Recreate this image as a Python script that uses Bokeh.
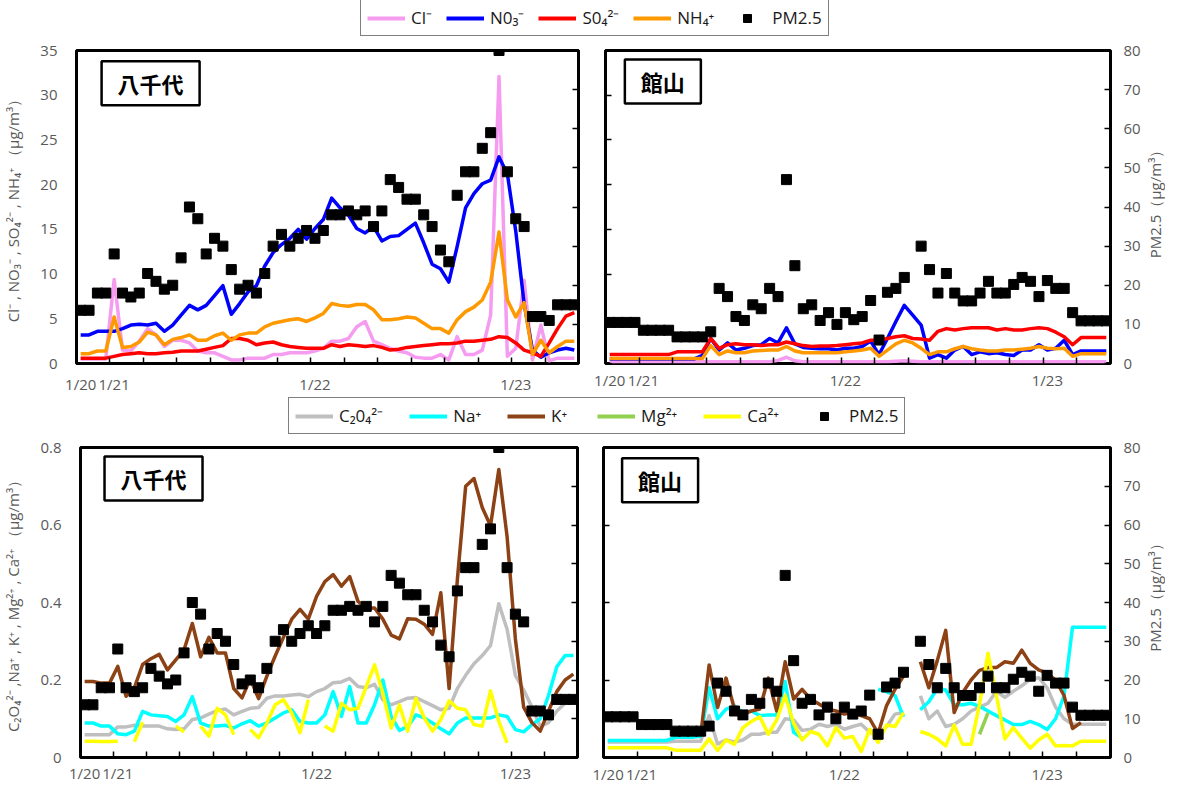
import math
import numpy as np
from bokeh.plotting import figure
from bokeh.models import (Range1d, LinearAxis, FixedTicker, Legend, LegendItem,
                          Label, ColumnDataSource, CustomJSTickFormatter)
from bokeh.layouts import column, row
from bokeh.embed import file_html
from bokeh.resources import INLINE

nan = float("nan")

# ---------------- data ----------------
hour_index = list(range(60))          # hourly samples, 1/20 20:00 -> 1/23 07:00
date_tick_index = [0, 4, 28, 52]
date_tick_labels = ["1/20", "1/21", "1/22", "1/23"]

pm25_yachiyo = [13.6, 13.6, 18, 18, 28, 18, 17, 18, 23, 21,
                19, 20, 27, 40, 37, 28, 32, 30, 24, 19,
                20, 18, 23, 30, 33, 30, 32, 34, 32, 34,
                38, 38, 39, 38, 39, 35, 39, 47, 45, 42,
                42, 38, 35, 29, 26, 43, 49, 49, 55, 59,
                80, 49, 37, 35, 12, 12, 11, 15, 15, 15]
pm25_tateyama = [10.5, 10.5, 10.5, 10.5, 8.5, 8.5, 8.5, 8.5, 6.8, 6.8,
                 6.8, 6.8, 8.1, 19.2, 17.1, 12, 11, 15, 14, 19.2,
                 17.1, 47, 25, 14, 15, 11, 13, 10, 13, 11.2,
                 12, 16.1, 6, 18.2, 19.2, 22, nan, 30, 24, 18,
                 23, 18, 16, 16, 18, 21, 18, 18, 20.2, 22,
                 21, 17.1, 21.2, 19.2, 19.2, 13, 10.9, 10.9, 10.9, 10.9]

# 八千代 ions (ug/m3)
cl_yachiyo = [0.5, 0.5, 0.5, 0.5, 9.4, 1.5, 1.4, 2.5, 3.9, 3.2,
              1.9, 2.6, 2.6, 2.3, 1.4, 1.2, 1.2, 0.8, 0.4, 0.4,
              0.6, 0.6, 0.6, 1.0, 1.0, 1.2, 1.2, 1.2, 1.4, 1.7,
              2.5, 2.5, 2.8, 4.1, 4.7, 2.5, 2.1, 1.7, 1.4, 1.2,
              0.7, 0.6, 0.6, 1.0, 0.4, 3.0, 1.0, 1.0, 1.5, 5.4,
              32.1, 0.8, 1.7, 9.3, 0.4, 4.3, 0.3, 0.6, 0.6, 0.6]
no3_yachiyo = [3.2, 3.2, 3.6, 3.6, 3.6, 3.9, 4.3, 4.4, 4.3, 4.5,
               3.6, 4.3, 5.4, 6.5, 6.0, 6.5, 7.6, 8.7, 5.5, 6.7,
               8.0, 8.7, 10.9, 12.4, 13.3, 14.0, 15.0, 13.9, 15.1, 16.1,
               18.5, 17.4, 16.6, 15.1, 14.6, 15.3, 13.7, 14.2, 14.3, 15.0,
               15.7, 13.5, 11.1, 10.6, 9.1, 13.1, 17.4, 19.0, 20.1, 20.5,
               23.1, 21.2, 14.8, 6.7, 1.5, 0.7, 1.2, 1.5, 1.7, 1.5]
so4_yachiyo = [0.6, 0.6, 0.6, 0.6, 0.8, 1.0, 1.1, 1.2, 1.1, 1.1,
               1.2, 1.25, 1.4, 1.4, 1.4, 1.6, 1.8, 2.0, 2.8, 2.8,
               2.6, 2.1, 2.3, 2.4, 2.1, 1.9, 1.8, 1.7, 1.7, 1.7,
               2.1, 1.9, 2.1, 2.0, 1.9, 2.0, 1.8, 1.5, 1.6, 1.8,
               1.9, 2.0, 2.1, 2.2, 2.2, 2.3, 2.5, 2.5, 2.6, 2.7,
               3.0, 2.9, 2.3, 1.5, 1.2, 0.8, 2.3, 3.9, 5.3, 5.7]
nh4_yachiyo = [1.1, 1.1, 1.4, 1.4, 5.2, 1.8, 1.9, 2.4, 3.5, 3.2,
               2.1, 2.7, 2.9, 3.2, 2.6, 2.6, 3.1, 3.4, 2.6, 3.2,
               3.4, 3.4, 4.1, 4.5, 4.7, 4.9, 5.0, 4.7, 5.1, 5.6,
               6.7, 6.5, 6.4, 6.6, 6.6, 6.0, 4.9, 4.9, 5.0, 5.2,
               5.1, 4.5, 3.9, 3.9, 3.4, 4.9, 5.8, 6.3, 7.1, 9.1,
               14.7, 7.1, 5.2, 6.8, 1.0, 2.6, 1.2, 1.9, 2.5, 2.5]

# 館山 ions (ug/m3)
cl_tateyama = [0.2, 0.2, 0.2, 0.2, 0.2, 0.2, 0.2, 0.2, 0.2, 0.2,
               0.2, 0.2, 0.2, 0.2, 0.2, 0.2, 0.2, 0.2, 0.2, 0.2,
               0.35, 0.7, 0.3, 0.2, 0.2, 0.2, 0.2, 0.2, 0.2, 0.2,
               0.2, 0.2, 0.2, 0.2, 0.25, 0.3, 0.25, 0.2, 0.2, 0.2,
               0.2, 0.2, 0.2, 0.2, 0.2, 0.2, 0.2, 0.2, 0.2, 0.2,
               0.2, 0.2, 0.2, 0.2, 0.2, 0.2, 0.2, 0.2, 0.2, 0.2]
no3_tateyama = [0.5, 0.5, 0.5, 0.5, 0.5, 0.5, 0.5, 0.5, 0.5, 0.5,
                0.5, 0.9, 2.8, 1.5, 2.3, 1.5, 1.7, 2.0, 2.1, 2.8,
                2.3, 4.0, 2.2, 1.8, 1.7, 1.65, 1.65, 1.5, 1.7, 1.7,
                1.9, 2.5, 1.0, 2.8, 4.7, 6.5, 5.4, 4.3, 0.6, 1.0,
                0.6, 1.5, 1.9, 1.0, 1.3, 1.1, 1.2, 1.0, 0.9, 1.5,
                1.5, 2.1, 1.5, 1.7, 2.6, 1.0, 1.4, 1.4, 1.4, 1.4]
so4_tateyama = [1.0, 1.0, 1.0, 1.0, 1.0, 1.0, 1.0, 1.0, 1.3, 1.3,
                1.3, 1.3, 2.8, 1.7, 2.1, 2.2, 2.1, 2.1, 2.0, 2.1,
                2.1, 2.4, 2.2, 2.0, 1.9, 1.95, 1.95, 2.0, 2.1, 2.2,
                2.3, 2.6, 2.6, 2.8, 3.0, 3.1, 2.8, 2.75, 2.6, 3.6,
                3.9, 3.75, 3.9, 4.0, 4.0, 4.0, 3.75, 3.9, 3.75, 3.75,
                3.9, 4.0, 3.9, 3.5, 3.0, 2.1, 2.9, 2.9, 2.9, 2.9]
nh4_tateyama = [0.55, 0.55, 0.55, 0.55, 0.55, 0.55, 0.55, 0.55, 0.55, 0.55,
                0.55, 0.55, 2.0, 1.0, 1.4, 1.2, 1.2, 1.4, 1.45, 1.5,
                1.5, 1.9, 1.4, 1.2, 1.2, 1.2, 1.2, 1.2, 1.3, 1.4,
                1.5, 1.7, 0.8, 1.5, 2.2, 2.6, 2.3, 1.7, 1.0, 1.3,
                1.3, 1.65, 1.9, 1.65, 1.5, 1.4, 1.4, 1.5, 1.5, 1.6,
                1.7, 1.9, 1.7, 1.65, 1.7, 0.8, 1.1, 1.1, 1.1, 1.1]

# 八千代 minor components (ug/m3)
c2o4_yachiyo = [0.059, 0.059, 0.059, 0.059, 0.079, 0.079, 0.083, 0.081, 0.081, 0.081,
                0.074, 0.072, 0.074, 0.098, 0.102, 0.112, 0.121, 0.125, 0.11, 0.119,
                0.127, 0.129, 0.153, 0.159, 0.159, 0.161, 0.163, 0.157, 0.17, 0.178,
                0.193, 0.195, 0.204, 0.183, 0.18, 0.189, 0.149, 0.136, 0.144, 0.153,
                0.155, 0.144, 0.134, 0.123, 0.127, 0.178, 0.212, 0.242, 0.263, 0.289,
                0.397, 0.331, 0.212, 0.174, 0.13, 0.08, 0.09, 0.12, 0.14, 0.15]
na_yachiyo = [0.089, 0.089, 0.081, 0.081, 0.061, 0.059, 0.068, 0.119, 0.11, 0.108,
              0.106, 0.093, 0.11, 0.157, 0.089, 0.081, 0.081, 0.083, 0.076, 0.087,
              0.095, 0.081, 0.089, 0.102, 0.115, 0.123, 0.093, 0.089, 0.089, 0.11,
              0.17, 0.106, 0.183, 0.089, 0.089, 0.136, 0.2, 0.106, 0.07, 0.08,
              0.11, 0.102, 0.089, 0.074, 0.061, 0.089, 0.102, 0.102, 0.102, 0.102,
              0.11, 0.106, 0.072, 0.066, 0.085, 0.1, 0.16, 0.234, 0.263, 0.263]
k_yachiyo = [0.196, 0.196, 0.192, 0.192, 0.235, 0.158, 0.18, 0.24, 0.255, 0.266,
             0.226, 0.252, 0.278, 0.346, 0.26, 0.31, 0.27, 0.27, 0.178, 0.154,
             0.203, 0.152, 0.21, 0.262, 0.31, 0.357, 0.382, 0.357, 0.416, 0.454,
             0.472, 0.442, 0.467, 0.403, 0.386, 0.386, 0.357, 0.316, 0.306, 0.358,
             0.357, 0.344, 0.318, 0.425, 0.178, 0.46, 0.70, 0.72, 0.645, 0.598,
             0.743, 0.57, 0.306, 0.13, 0.09, 0.068, 0.12, 0.17, 0.2, 0.215]
mg_yachiyo = [nan, nan, nan, nan, nan, nan, nan, nan, nan, nan,
              nan, nan, nan, nan, nan, nan, nan, nan, nan, nan,
              nan, nan, nan, nan, nan, nan, nan, nan, nan, nan,
              nan, nan, nan, nan, nan, nan, nan, nan, nan, nan,
              nan, nan, nan, nan, nan, nan, nan, nan, nan, nan,
              nan, nan, nan, nan, nan, nan, nan, nan, nan, nan]
ca_yachiyo = [0.042, 0.042, 0.041, 0.041, 0.042, nan, 0.041, 0.091, nan, nan,
              nan, 0.081, 0.066, nan, 0.081, 0.055, 0.127, 0.11, 0.059, nan,
              0.072, 0.051, 0.089, 0.136, 0.149, 0.115, 0.064, 0.149, nan, 0.081,
              0.068, 0.14, 0.123, 0.127, 0.183, 0.239, 0.166, 0.076, 0.136, 0.068,
              0.153, 0.102, 0.068, 0.098, 0.146, 0.127, 0.123, 0.085, 0.081, 0.172,
              0.093, 0.038, nan, nan, nan, nan, nan, nan, nan, nan]

# 館山 minor components (ug/m3)
c2o4_tateyama = [0.04, 0.04, 0.04, 0.04, 0.04, 0.04, 0.04, 0.04, 0.042, 0.042,
                 0.042, 0.042, 0.108, 0.035, 0.045, 0.04, 0.045, 0.06, 0.06, 0.065,
                 0.065, 0.1, 0.097, 0.07, 0.073, 0.086, 0.08, 0.086, 0.073, 0.08,
                 0.086, 0.065, 0.06, 0.08, 0.112, 0.116, nan, 0.159, 0.1, 0.12,
                 0.08, 0.086, 0.1, 0.12, 0.13, 0.14, 0.171, 0.155, 0.171, 0.185,
                 0.202, 0.206, 0.18, 0.13, 0.1, 0.086, 0.086, 0.086, 0.086, 0.086]
na_tateyama = [0.044, 0.044, 0.044, 0.044, 0.044, 0.044, 0.044, 0.044, 0.052, 0.052,
               0.052, 0.055, 0.18, 0.1, 0.125, 0.133, 0.116, 0.12, 0.108, 0.11,
               0.11, 0.196, 0.065, 0.05, nan, nan, nan, nan, nan, nan,
               nan, nan, 0.176, 0.17, 0.16, 0.105, nan, 0.123, 0.144, 0.178,
               0.174, 0.136, 0.136, 0.14, 0.132, 0.12, 0.108, 0.097, 0.085, 0.085,
               0.093, 0.085, 0.072, 0.1, 0.159, 0.336, 0.336, 0.336, 0.336, 0.336]
k_tateyama = [nan, nan, nan, nan, nan, nan, nan, nan, nan, nan,
              nan, 0.057, 0.239, 0.129, 0.205, 0.125, 0.112, 0.12, 0.125, 0.205,
              0.12, 0.247, 0.151, 0.176, 0.151, 0.138, 0.125, 0.12, 0.112, 0.116,
              0.108, 0.1, 0.062, 0.134, 0.176, 0.21, nan, 0.247, 0.18, 0.25,
              0.328, 0.116, 0.167, 0.2, 0.225, 0.232, 0.232, 0.247, 0.243, 0.277,
              0.243, 0.226, 0.218, 0.2, 0.16, 0.075, 0.09, nan, nan, nan]
mg_tateyama = [nan, nan, nan, nan, nan, nan, nan, nan, nan, nan,
               nan, nan, nan, nan, nan, nan, nan, nan, nan, nan,
               nan, nan, nan, nan, nan, nan, nan, nan, nan, nan,
               nan, nan, nan, nan, nan, nan, nan, nan, nan, nan,
               nan, nan, nan, nan, 0.06, 0.115, nan, nan, nan, nan,
               nan, nan, nan, nan, nan, nan, nan, nan, nan, nan]
ca_tateyama = [0.025, 0.025, 0.025, 0.025, 0.025, 0.025, 0.025, 0.025, 0.019, 0.019,
               0.019, 0.019, 0.048, 0.018, 0.045, 0.034, 0.077, 0.093, 0.105, 0.06,
               0.097, 0.16, 0.088, 0.045, 0.067, 0.06, 0.03, 0.077, 0.05, 0.054,
               0.016, 0.073, 0.039, 0.084, 0.08, 0.116, nan, 0.067, 0.06, 0.048,
               0.03, 0.084, 0.034, 0.034, 0.137, 0.269, 0.16, 0.048, 0.077, 0.05,
               0.024, 0.045, 0.06, 0.03, 0.031, 0.03, 0.042, 0.042, 0.042, 0.042]

ion_names = ["Cl⁻", "N0₃⁻", "S0₄²⁻", "NH₄⁺"]
minor_names = ["C₂0₄²⁻", "Na⁺", "K⁺", "Mg²⁺", "Ca²⁺"]
ion_colors = ["#F59CF0", "#0000FF", "#FF0000", "#FF9900"]
minor_colors = ["#BFBFBF", "#00FFFF", "#8C4214", "#92D050", "#FFFF00"]

# ---------------- styling helpers ----------------
FONT = "Open Sans"
GREY = "#595959"
LW = 3.5

EMPTY = "return '';"


def make_panel(width, height, mb, ymax, yticks, labelled_side, standoff_x, left_title=None):
    p = figure(width=width, height=height, x_range=Range1d(-0.5, 59.5),
               y_range=Range1d(0, ymax), output_backend="svg", toolbar_location=None,
               min_border_left=mb[0], min_border_right=mb[1],
               min_border_top=mb[2], min_border_bottom=mb[3],
               background_fill_color="white", border_fill_color="white")
    p.extra_y_ranges = {"pm": Range1d(0, 80)}
    p.grid.visible = False
    p.outline_line_color = "black"
    p.outline_line_width = 3

    xa = p.xaxis[0]
    xa.ticker = FixedTicker(ticks=date_tick_index,
                            minor_ticks=[3.5 + 4 * k for k in range(14)])
    xa.formatter = CustomJSTickFormatter(
        args=dict(pos=date_tick_index, lab=date_tick_labels),
        code="const i = pos.indexOf(Math.round(tick)); return i >= 0 ? lab[i] : '';")
    xa.major_tick_in = 0
    xa.major_tick_out = 0
    xa.minor_tick_in = 6
    xa.minor_tick_out = 0
    xa.minor_tick_line_color = "black"
    xa.minor_tick_line_width = 1.5
    xa.axis_line_color = None
    xa.major_label_text_font = FONT
    xa.major_label_text_font_size = "15px"
    xa.major_label_text_color = GREY
    xa.major_label_standoff = standoff_x

    ya = p.yaxis[0]
    ya.ticker = FixedTicker(ticks=yticks)
    ya.axis_line_color = None
    ya.major_tick_out = 0
    ya.minor_tick_in = 0
    ya.minor_tick_out = 0

    ra = LinearAxis(y_range_name="pm", ticker=FixedTicker(ticks=[0, 10, 20, 30, 40, 50, 60, 70, 80]))
    ra.axis_line_color = None
    ra.major_tick_out = 0
    ra.minor_tick_in = 0
    ra.minor_tick_out = 0
    ra.major_tick_line_color = "black"
    ra.major_tick_line_width = 1.5
    ra.major_tick_in = 6

    if labelled_side == "left":
        ya.major_tick_in = 0
        ya.major_label_text_font = FONT
        ya.major_label_text_font_size = "15px"
        ya.major_label_text_color = GREY
        ya.major_label_standoff = 19
        ya.axis_label = left_title
        ya.axis_label_text_font = FONT
        ya.axis_label_text_font_size = "15px"
        ya.axis_label_text_font_style = "normal"
        ya.axis_label_text_color = GREY
        ya.axis_label_standoff = 14
        ra.formatter = CustomJSTickFormatter(code=EMPTY)
        ra.major_label_text_color = None
        ra.major_label_standoff = 0
    else:
        ya.major_tick_in = 6
        ya.major_tick_line_color = "black"
        ya.major_tick_line_width = 1.5
        ya.formatter = CustomJSTickFormatter(code=EMPTY)
        ya.major_label_text_color = None
        ya.major_label_standoff = 0
        ra.major_label_text_font = FONT
        ra.major_label_text_font_size = "15px"
        ra.major_label_text_color = GREY
        ra.major_label_standoff = 13
    p.add_layout(ra, "right")
    return p


def title_strip(width, height, center_from_bottom, text):
    """Narrow strip to the right of a panel holding its rotated PM2.5 axis title."""
    f = figure(width=width, height=height, x_range=Range1d(0, width), y_range=Range1d(0, height),
               output_backend="svg", toolbar_location=None, min_border=0,
               x_axis_location=None, y_axis_location=None)
    f.grid.visible = False
    f.outline_line_color = None
    f.add_layout(Label(x=width / 2, y=center_from_bottom, text=text, angle=math.pi / 2,
                       text_align="center", text_baseline="middle",
                       text_font=FONT, text_font_size="15px", text_color=GREY))
    return f


def add_series(p, series, colors, pm):
    data = {"h": np.array(hour_index, dtype=float), "pm": np.array(pm, dtype=float)}
    for k, s in enumerate(series):
        data["s%d" % k] = np.array(s, dtype=float)
    src = ColumnDataSource(data)
    for k, c in enumerate(colors):
        p.line("h", "s%d" % k, source=src, line_color=c, line_width=LW, line_join="round")
    p.scatter("h", "pm", source=src, y_range_name="pm", marker="square", size=10,
              fill_color="black", line_color="black")


def add_site_label(p, x, y, text):
    p.add_layout(Label(x=x, y=y, text=text, anchor="top_left",
                       text_font="Noto Sans CJK JP", text_font_size="22px",
                       text_font_style="bold", text_color="black",
                       background_fill_color="white", border_line_color="black",
                       border_line_width=2.5,
                       padding=dict(left=16, right=16, top=6, bottom=6)))


def legend_panel(height, names, colors, loc, spacing):
    lf = figure(width=1165, height=height, x_range=Range1d(0, 1), y_range=Range1d(0, 1),
                output_backend="svg", toolbar_location=None, min_border=0,
                x_axis_location=None, y_axis_location=None)
    lf.grid.visible = False
    lf.outline_line_color = None
    items = []
    # legend-only renderers: their sample lies outside the visible range
    for name, c in zip(names, colors):
        r = lf.line(x=[5, 6], y=[5, 5], line_color=c, line_width=4)
        items.append(LegendItem(label=name, renderers=[r]))
    r = lf.scatter(x=[5], y=[5], marker="square", size=8, fill_color="black", line_color="black")
    items.append(LegendItem(label="PM2.5", renderers=[r]))
    lg = Legend(items=items, location=loc, orientation="horizontal",
                border_line_color="black", border_line_width=1.5,
                background_fill_color="white", padding=6, spacing=spacing, margin=0,
                glyph_width=38, glyph_height=20, label_height=20, label_standoff=6,
                label_text_font=FONT, label_text_font_size="17px", label_text_color="#1a1a1a")
    lf.add_layout(lg)
    return lf


ion_title = "Cl⁻ , NO₃⁻ , SO₄²⁻ , NH₄⁺ （μg/m³）"
minor_title = "C₂O₄²⁻ ,Na⁺ , K⁺ , Mg²⁺ , Ca²⁺ （μg/m³）"
pm_title = "PM2.5（μg/m³）"

ion_ticks = [0, 5, 10, 15, 20, 25, 30, 35]
minor_ticks = [0, 0.2, 0.4, 0.6, 0.8]

STRIP = 22

# top row
tl = make_panel(592, 358, (72, 14, 9, 32), 35, ion_ticks, "left", 10, left_title=ion_title)
add_series(tl, [cl_yachiyo, no3_yachiyo, so4_yachiyo, nh4_yachiyo], ion_colors, pm25_yachiyo)
add_site_label(tl, 2.5, 33.8, "八千代")

tr = make_panel(573 - STRIP, 358, (13, 52 - STRIP, 12, 27), 35, ion_ticks, "right", 6)
add_series(tr, [cl_tateyama, no3_tateyama, so4_tateyama, nh4_tateyama], ion_colors, pm25_tateyama)
add_site_label(tr, 1.8, 34.0, "館山")
tr_title = title_strip(STRIP, 358, 358 - 12 - 319 / 2, pm_title)

# bottom row
bl = make_panel(592, 348, (72, 15, 9, 26), 0.8, minor_ticks, "left", 5, left_title=minor_title)
add_series(bl, [c2o4_yachiyo, na_yachiyo, k_yachiyo, mg_yachiyo, ca_yachiyo], minor_colors, pm25_yachiyo)
add_site_label(bl, 2.4, 0.777, "八千代")

br = make_panel(573 - STRIP, 348, (11, 55 - STRIP, 8, 27), 0.8, minor_ticks, "right", 6)
add_series(br, [c2o4_tateyama, na_tateyama, k_tateyama, mg_tateyama, ca_tateyama], minor_colors, pm25_tateyama)
add_site_label(br, 1.7, 0.772, "館山")
br_title = title_strip(STRIP, 348, 348 - 8 - 313 / 2, pm_title)

leg_top = legend_panel(38, ion_names, ion_colors, (360, 2), 14)
leg_bot = legend_panel(42, minor_names, minor_colors, (288, 4), 26)

layout = column(leg_top, row(tl, tr, tr_title), leg_bot, row(bl, br, br_title))

open("out.html", "w").write(file_html(layout, INLINE, title="PM2.5"))
